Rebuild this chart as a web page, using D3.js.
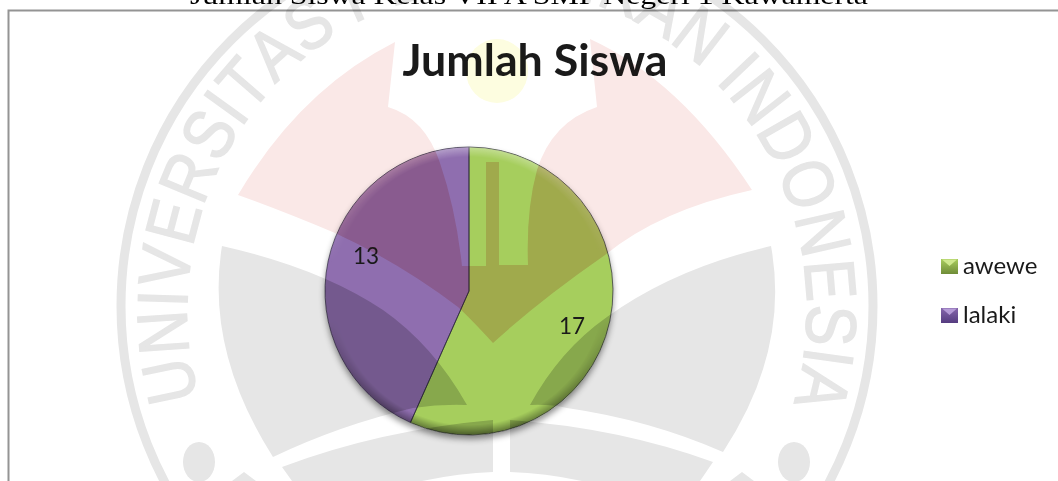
<!DOCTYPE html>
<html>
<head>
<meta charset="utf-8">
<script src="https://cdn.jsdelivr.net/npm/d3@7"></script>
<style>
  html, body { margin: 0; padding: 0; background: #fff; overflow: hidden; }
  svg { display: block; }
</style>
</head>
<body>
<div id="chart"></div>
<script>
// chart values
var categories = ["awewe", "lalaki"];
var values = [17, 13];
var chartTitle = "Jumlah Siswa";
var caption = "Jumlah Siswa Kelas VII A SMP Negeri 1 Kawamerta";
var watermarkText = "UNIVERSITAS PENDIDIKAN INDONESIA";

var width = 1058, height = 481;
var cx = 469, cy = 291, radius = 144;

var svg = d3.select("#chart").append("svg")
  .attr("width", width).attr("height", height);
var defs = svg.append("defs");

// slice fills, light at the top and darker toward the bottom
function sliceGradient(id, stops) {
  var g = defs.append("linearGradient").attr("id", id)
    .attr("gradientUnits", "userSpaceOnUse")
    .attr("x1", 0).attr("x2", 0).attr("y1", cy - radius).attr("y2", cy + radius);
  stops.forEach(function (s) {
    g.append("stop").attr("offset", s[0]).attr("stop-color", s[1]);
  });
}
sliceGradient("fill-awewe", [[0, "#a6ce5d"], [0.55, "#96b956"], [1, "#86a44a"]]);
sliceGradient("fill-lalaki", [[0, "#8f6eaf"], [0.5, "#7d62a0"], [1, "#6f5390"]]);

var rim = defs.append("linearGradient").attr("id", "rim")
  .attr("gradientUnits", "userSpaceOnUse")
  .attr("x1", 0).attr("x2", 0).attr("y1", cy - radius).attr("y2", cy + radius);
rim.append("stop").attr("offset", 0).attr("stop-color", "#fff").attr("stop-opacity", 0.35);
rim.append("stop").attr("offset", 0.4).attr("stop-color", "#fff").attr("stop-opacity", 0);
rim.append("stop").attr("offset", 0.6).attr("stop-color", "#000").attr("stop-opacity", 0);
rim.append("stop").attr("offset", 1).attr("stop-color", "#000").attr("stop-opacity", 0.45);

var rimFade = defs.append("radialGradient").attr("id", "rim-fade");
rimFade.append("stop").attr("offset", 0.93).attr("stop-color", "#000");
rimFade.append("stop").attr("offset", 1).attr("stop-color", "#fff");
defs.append("mask").attr("id", "rim-mask")
  .attr("maskUnits", "userSpaceOnUse")
  .attr("x", 0).attr("y", 0).attr("width", width).attr("height", height)
  .append("circle").attr("cx", cx).attr("cy", cy).attr("r", radius).attr("fill", "url(#rim-fade)");

var shadow = defs.append("filter").attr("id", "pie-shadow")
  .attr("x", "-10%").attr("y", "-10%").attr("width", "120%").attr("height", "120%");
shadow.append("feDropShadow").attr("dx", 0).attr("dy", 4).attr("stdDeviation", 3)
  .attr("flood-color", "#000").attr("flood-opacity", 0.45);

defs.append("clipPath").attr("id", "pie-clip")
  .append("circle").attr("cx", cx).attr("cy", cy).attr("r", radius);

// frame of the chart object
svg.append("path").attr("d", "M8.5,481V10.5H1058")
  .attr("fill", "none").attr("stroke", "#949494").attr("stroke-width", 2);

// pie
var pie = d3.pie().sort(null).startAngle(0).endAngle(2 * Math.PI);
var arc = d3.arc().innerRadius(0).outerRadius(radius);
var arcs = pie(values);

var pieG = svg.append("g").attr("transform", "translate(" + cx + "," + cy + ")");
pieG.append("g").attr("filter", "url(#pie-shadow)")
  .selectAll("path").data(arcs).join("path")
  .attr("d", arc)
  .attr("fill", function (d, i) { return "url(#fill-" + categories[i] + ")"; });

svg.append("circle").attr("cx", cx).attr("cy", cy).attr("r", radius)
  .attr("fill", "url(#rim)").attr("mask", "url(#rim-mask)");

pieG.selectAll("path.edge").data(arcs).join("path")
  .attr("class", "edge")
  .attr("d", arc)
  .attr("fill", "none")
  .attr("stroke", "#2c2a3a").attr("stroke-opacity", 0.7).attr("stroke-width", 1);

// texts sit under the watermark too
var sans = "Lato, 'Open Sans', sans-serif";

svg.append("text")
  .attr("x", 529).attr("y", 4)
  .attr("text-anchor", "middle")
  .attr("textLength", 678).attr("lengthAdjust", "spacingAndGlyphs")
  .attr("font-family", "'Liberation Serif', serif").attr("font-size", 25)
  .attr("fill", "#000")
  .text(caption);

svg.append("text")
  .attr("x", 535).attr("y", 76)
  .attr("text-anchor", "middle")
  .attr("textLength", 265).attr("lengthAdjust", "spacingAndGlyphs")
  .attr("font-family", sans).attr("font-weight", 700).attr("font-size", 43)
  .attr("fill", "#1a1a1a")
  .text(chartTitle);

// value labels follow the slice middle, turned a little clockwise like the original
var labelTurn = 7 * Math.PI / 180, labelR = 109;
function labelPos(d) {
  var a = (d.startAngle + d.endAngle) / 2 + labelTurn;
  return [labelR * Math.sin(a), -labelR * Math.cos(a)];
}
pieG.selectAll("text.value").data(arcs).join("text")
  .attr("class", "value")
  .attr("x", function (d) { return labelPos(d)[0]; })
  .attr("y", function (d) { return labelPos(d)[1] + 8; })
  .attr("text-anchor", "middle")
  .attr("font-family", sans).attr("font-size", 22.5)
  .attr("fill", "#1a1a1a")
  .text(function (d) { return d.value; });

// legend
var legendY = d3.scalePoint().domain(categories).range([267, 316]);
var swatchFill = { awewe: ["#a9cd5e", "#6f8c38", "#cfe88e"], lalaki: ["#8566ab", "#553c80", "#b49ad6"] };

var legend = svg.append("g").selectAll("g").data(categories).join("g")
  .attr("transform", function (d) { return "translate(941," + legendY(d) + ")"; });

categories.forEach(function (c) {
  var g = defs.append("linearGradient").attr("id", "swatch-" + c)
    .attr("x1", 0).attr("x2", 0).attr("y1", 0).attr("y2", 1);
  g.append("stop").attr("offset", 0).attr("stop-color", swatchFill[c][0]);
  g.append("stop").attr("offset", 1).attr("stop-color", swatchFill[c][1]);
});
legend.append("rect")
  .attr("x", 0).attr("y", -8).attr("width", 17).attr("height", 15)
  .attr("fill", function (d) { return "url(#swatch-" + d + ")"; });
legend.append("path")
  .attr("d", "M1,-7.5H16L8.5,-1Z")
  .attr("fill", function (d) { return swatchFill[d][2]; });
legend.append("text")
  .attr("x", 22).attr("y", 6.5)
  .attr("font-family", sans).attr("font-size", 24)
  .attr("fill", "#1a1a1a")
  .text(function (d) { return d; });

// university watermark, printed over the whole page
function drawWatermark(g) {
  var grey = "#e6e6e6";
  var red = "#fae8e7";

  g.append("path").attr("fill", red).attr("d",
    "M395,42L388,107Q425,118 440,163Q456,210 462,266H486V162H499V265H528Q526,210 537,170" +
    "Q552,122 597,107L590,39Q680,80 752,190Q660,210 605,255Q540,300 493,343" +
    "Q470,318 458,307Q400,263 335,233Q280,210 238,195Q300,90 395,42Z");

  g.append("path").attr("fill", grey).attr("d",
    "M222,246Q320,268 383,310Q433,345 467,405Q440,404 413,408Q340,425 273,457" +
    "Q205,350 222,246Z");
  g.append("path").attr("fill", grey).attr("d",
    "M771,246Q675,268 607,317Q560,350 530,405Q550,404 567,408Q650,420 723,452" +
    "Q790,350 771,246Z");
  g.append("path").attr("fill", grey).attr("d",
    "M493,420Q380,430 282,467L292,481H422Q460,473 493,472Z");
  g.append("path").attr("fill", grey).attr("d",
    "M510,420Q620,428 713,462L700,481H582Q545,473 510,472Z");

  g.append("ellipse").attr("cx", 199).attr("cy", 462).attr("rx", 16).attr("ry", 20).attr("fill", grey);
  g.append("ellipse").attr("cx", 794).attr("cy", 462).attr("rx", 16).attr("ry", 20).attr("fill", grey);
  g.append("path").attr("fill", grey).attr("d", "M244,472L232,481H256Z");
  g.append("path").attr("fill", grey).attr("d", "M742,472L730,481H754Z");

  g.append("circle").attr("cx", 497).attr("cy", 306).attr("r", 376)
    .attr("fill", "none").attr("stroke", grey).attr("stroke-width", 9);
  g.append("ellipse").attr("cx", 497).attr("cy", 71).attr("rx", 31).attr("ry", 32).attr("fill", "#fdfde0");
}

var mark = svg.append("g").style("mix-blend-mode", "multiply");
drawWatermark(mark);

// second pass inside the pie, the shapes read stronger on the coloured slices
var markPie = svg.append("g").attr("clip-path", "url(#pie-clip)").style("mix-blend-mode", "multiply");
drawWatermark(markPie);

// ring lettering: each glyph is squeezed to fit the arc
var ringRx = 310, ringRy = 322, ringStart = -106 * Math.PI / 180, ringEnd = 107 * Math.PI / 180;
var ringG = mark.append("g")
  .attr("font-family", "'Liberation Sans', Arial, sans-serif")
  .attr("font-size", 71).attr("fill", "#e6e6e6")
  .attr("stroke", "#e6e6e6").attr("stroke-width", 1.5);
var probe = ringG.append("text");
var advances = watermarkText.split("").map(function (ch) {
  probe.text(ch === " " ? "\u00a0" : ch);
  return probe.node().getComputedTextLength();
});
probe.remove();
var squeeze = ringRx * (ringEnd - ringStart) / d3.sum(advances);
var run = 0;
watermarkText.split("").forEach(function (ch, i) {
  var w = advances[i] * squeeze;
  var a = ringStart + (run + w / 2) / ringRx;
  run += w;
  if (ch === " ") return;
  ringG.append("text")
    .attr("text-anchor", "middle")
    .attr("transform", "translate(" + (497 + ringRx * Math.sin(a)) + "," + (310 - ringRy * Math.cos(a)) + ")" +
      " rotate(" + (a * 180 / Math.PI) + ") scale(" + squeeze + ",1)")
    .text(ch);
});
</script>
</body>
</html>
